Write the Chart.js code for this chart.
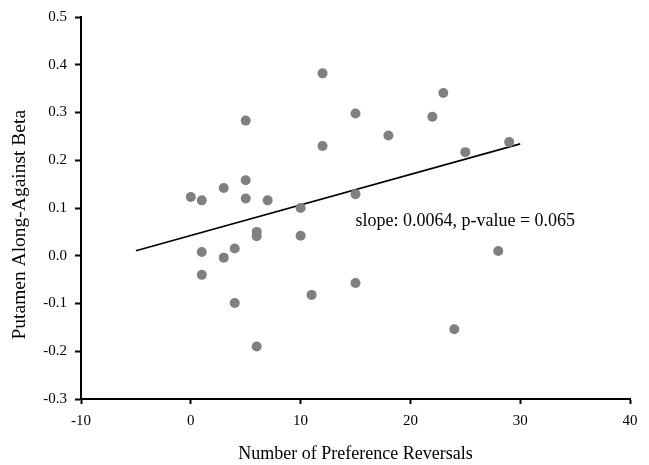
<!DOCTYPE html>
<html>
<head>
<meta charset="utf-8">
<script src="https://cdn.jsdelivr.net/npm/chart.js@4/dist/chart.umd.min.js"></script>
<style>
  html, body { margin: 0; padding: 0; background: #ffffff; }
  #wrap { width: 649px; height: 465px; position: relative; }
</style>
</head>
<body>
<div id="wrap"><canvas id="c" width="649" height="465"></canvas></div>
<script>
// Data
const reversals = [0, 1, 3, 5, 5, 5, 7, 1, 1, 3, 4, 4, 6, 6, 6, 10, 10, 11, 12, 12, 15, 15, 15, 18, 22, 23, 25, 28, 24, 29];
const betaValues = [0.123, 0.116, 0.142, 0.283, 0.158, 0.120, 0.116, 0.008, -0.040, -0.004, 0.015, -0.099, 0.050, 0.041, -0.190, 0.100, 0.042, -0.082, 0.382, 0.230, 0.298, 0.129, -0.057, 0.252, 0.291, 0.341, 0.217, 0.010, -0.154, 0.238];
const fitX = [-5, 30];
const fitY = [0.0103, 0.2343];
const xTicks = [-10, 0, 10, 20, 30, 40];
const yTicks = [-0.3, -0.2, -0.1, 0.0, 0.1, 0.2, 0.3, 0.4, 0.5];
const annotationText = "slope: 0.0064, p-value = 0.065";
const annotationAt = [15, 0.073];
const yTitleText = "Putamen Along-Against Beta";
const yTitleCenterValue = 0.065;

const FONT = "'Liberation Serif', 'Times New Roman', serif";

const scatterPts = reversals.map((x, i) => ({ x: x, y: betaValues[i] }));
const fitPts = fitX.map((x, i) => ({ x: x, y: fitY[i] }));

const annotationPlugin = {
  id: 'annot',
  afterDatasetsDraw(chart) {
    const ctx = chart.ctx;
    const xs = chart.scales.x, ys = chart.scales.y;
    ctx.save();
    ctx.font = "18px " + FONT;
    ctx.fillStyle = '#000';
    ctx.textAlign = 'left';
    ctx.textBaseline = 'middle';
    ctx.fillText(annotationText, xs.getPixelForValue(annotationAt[0]), ys.getPixelForValue(annotationAt[1]));
    ctx.restore();
    // y-axis title (rotated), placed slightly below the axis centre as in the reference
    ctx.save();
    ctx.font = "19.5px " + FONT;
    ctx.fillStyle = '#000';
    ctx.textAlign = 'center';
    ctx.textBaseline = 'middle';
    ctx.translate(ys.left + 20, ys.getPixelForValue(yTitleCenterValue));
    ctx.rotate(-Math.PI / 2);
    ctx.fillText(yTitleText, 0, 0);
    ctx.restore();
  }
};

new Chart(document.getElementById('c'), {
  type: 'scatter',
  data: {
    datasets: [
      {
        label: 'data',
        data: scatterPts,
        backgroundColor: '#808080',
        borderColor: '#808080',
        pointRadius: 5,
        pointHoverRadius: 5,
        borderWidth: 0
      },
      {
        type: 'line',
        label: 'fit',
        data: fitPts,
        borderColor: '#000',
        borderWidth: 1.6,
        pointRadius: 0,
        fill: false,
        tension: 0
      }
    ]
  },
  options: {
    responsive: false,
    animation: false,
    devicePixelRatio: 1,
    layout: { padding: { top: 15, right: 19, left: 0, bottom: 0 } },
    plugins: { legend: { display: false }, tooltip: { enabled: false } },
    scales: {
      x: {
        type: 'linear',
        min: -10, max: 40,
        afterFit(s) { s.height = 66; },
        afterBuildTicks(s) { s.ticks = xTicks.map(v => ({ value: v })); },
        ticks: {
          color: '#000',
          font: { family: FONT, size: 15 },
          padding: 8,
          maxRotation: 0,
          callback: (v) => String(v)
        },
        grid: { display: true, drawOnChartArea: false, drawTicks: true, tickLength: 5, color: '#000', tickWidth: 2 },
        border: { display: true, color: '#000', width: 2 },
        title: {
          display: true,
          text: 'Number of Preference Reversals',
          color: '#000',
          font: { family: FONT, size: 18 },
          padding: { top: 0, bottom: 0 }
        }
      },
      y: {
        type: 'linear',
        min: -0.3, max: 0.5,
        afterFit(s) { s.width = 81; },
        afterBuildTicks(s) { s.ticks = yTicks.map(v => ({ value: v })); },
        ticks: {
          color: '#000',
          font: { family: FONT, size: 15 },
          padding: 8,
          callback: (v) => Number(v).toFixed(1)
        },
        grid: { display: true, drawOnChartArea: false, drawTicks: true, tickLength: 6, color: '#000', tickWidth: 2 },
        border: { display: true, color: '#000', width: 2 },
        title: { display: false }
      }
    }
  },
  plugins: [annotationPlugin]
});
</script>
</body>
</html>
